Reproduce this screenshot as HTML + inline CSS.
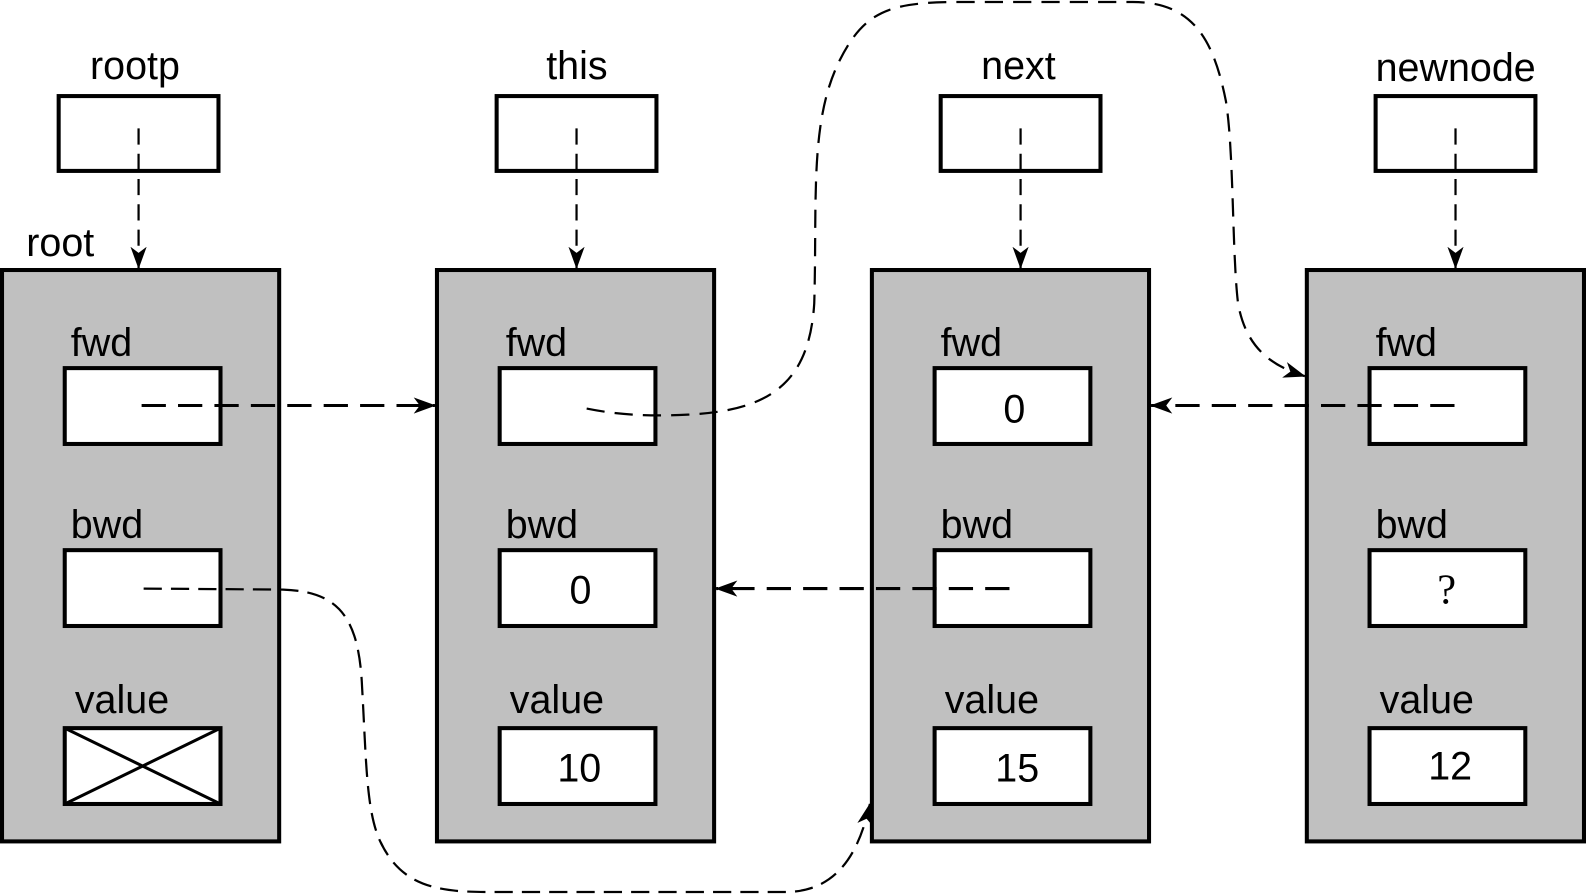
<!DOCTYPE html>
<html><head><meta charset="utf-8"><style>
html,body{margin:0;padding:0;background:#fff;width:1586px;height:895px;overflow:hidden}
svg{display:block}
text{font-family:"Liberation Sans",sans-serif;fill:#000}
</style></head><body>
<svg width="1586" height="895" viewBox="0 0 1568 885" preserveAspectRatio="none" xmlns="http://www.w3.org/2000/svg">
<defs>
<marker id="b" markerWidth="22" markerHeight="16" refX="21" refY="8" orient="auto" markerUnits="userSpaceOnUse" viewBox="0 0 22 16">
<path d="M0,0 L22,8 L0,16 L6,8 Z" fill="#000"/></marker>
</defs>
<g font-size="39">
<text x="89" y="78">rootp</text>
<text x="540" y="78">this</text>
<text x="970" y="78">next</text>
<text x="1360" y="80">newnode</text>
<text x="26" y="253">root</text>
</g>
<g fill="#fff" stroke="#000" stroke-width="4">
<rect x="58" y="95" width="158" height="74"/>
<rect x="491" y="95" width="158" height="74"/>
<rect x="930" y="95" width="158" height="74"/>
<rect x="1360" y="95" width="158" height="74"/>
</g>
<g fill="#c0c0c0" stroke="#000" stroke-width="4">
<rect x="2" y="267" width="274" height="565"/>
<rect x="432" y="267" width="274" height="565"/>
<rect x="862" y="267" width="274" height="565"/>
<rect x="1292" y="267" width="274" height="565"/>
</g>
<g fill="#fff" stroke="#000" stroke-width="4">
<rect x="64" y="364" width="154" height="75"/><rect x="64" y="544" width="154" height="75"/><rect x="64" y="720" width="154" height="75"/>
<rect x="494" y="364" width="154" height="75"/><rect x="494" y="544" width="154" height="75"/><rect x="494" y="720" width="154" height="75"/>
<rect x="924" y="364" width="154" height="75"/><rect x="924" y="544" width="154" height="75"/><rect x="924" y="720" width="154" height="75"/>
<rect x="1354" y="364" width="154" height="75"/><rect x="1354" y="544" width="154" height="75"/><rect x="1354" y="720" width="154" height="75"/>
</g>
<path d="M64,720 L218,795 M218,720 L64,795" stroke="#000" stroke-width="3"/>
<g font-size="39">
<text x="70" y="352">fwd</text><text x="70" y="532">bwd</text><text x="74" y="705">value</text>
<text x="500" y="352">fwd</text><text x="500" y="532">bwd</text><text x="504" y="705">value</text>
<text x="930" y="352">fwd</text><text x="930" y="532">bwd</text><text x="934" y="705">value</text>
<text x="1360" y="352">fwd</text><text x="1360" y="532">bwd</text><text x="1364" y="705">value</text>
<text x="992" y="418">0</text>
<text x="563" y="597">0</text>
<text x="551" y="773">10</text>
<text x="984" y="773">15</text>
<text x="1412" y="771">12</text>
</g>
<text x="1421" y="597" font-size="42" style="font-family:'Liberation Serif',serif">?</text>
<g fill="none" stroke="#000" stroke-width="2.2" stroke-dasharray="16,9">
<path d="M137,127 V265" marker-end="url(#b)"/>
<path d="M570,127 V265" marker-end="url(#b)"/>
<path d="M1009,127 V265" marker-end="url(#b)"/>
<path d="M1439,127 V265" marker-end="url(#b)"/>
<path d="M580,404 C610,410 640,412 680,410 C760,406 800,380 805,300 C808,200 800,120 830,60 C855,10 880,2 950,2 L1120,2 C1180,2 1200,40 1212,100 C1220,150 1218,250 1224,300 C1232,345 1258,362 1290,372" marker-end="url(#b)" stroke-dasharray="18,10"/>
</g>
<g fill="none" stroke="#000" stroke-width="3" stroke-dasharray="24,12">
<path d="M140,401 H430" marker-end="url(#b)"/>
<path d="M1438,401 H1138" marker-end="url(#b)"/>
<path d="M998,582 H708" marker-end="url(#b)"/>
</g>
<g fill="none" stroke="#000" stroke-width="2.2" stroke-dasharray="18,9">
<path d="M142,582 L280,583 C335,585 355,610 358,680 C362,750 362,800 375,830 C395,875 430,882 480,882 L780,882 C830,880 850,840 860,795" marker-end="url(#b)"/>
</g>
</svg>
</body></html>
